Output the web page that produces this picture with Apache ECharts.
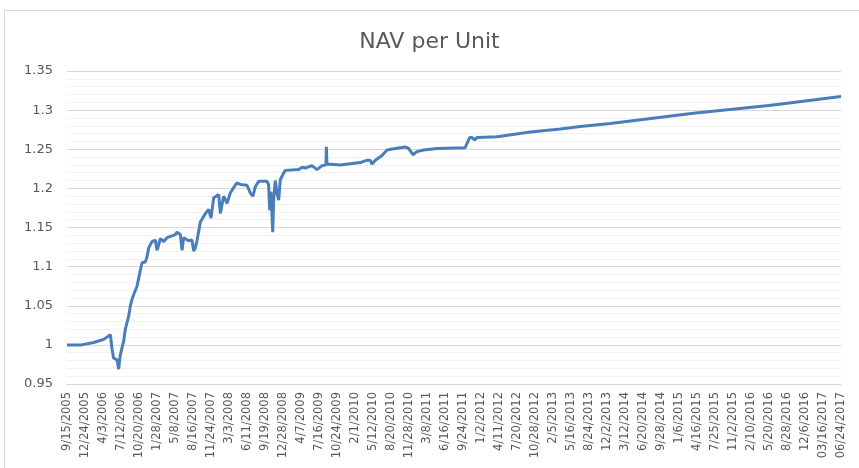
<!DOCTYPE html>
<html>
<head>
<meta charset="utf-8">
<script src="https://cdn.jsdelivr.net/npm/echarts@6/dist/echarts.min.js"></script>
<style>
  html, body { margin: 0; padding: 0; background: #fff; }
  #chart { width: 859px; height: 468px; }
</style>
</head>
<body>
<div id="chart"></div>
<script>
// ===== 数据 =====
// 横轴：从 9/15/2005 起的天数，刻度每 100 天
var tickLabels = [
  '9/15/2005', '12/24/2005', '4/3/2006', '7/12/2006', '10/20/2006', '1/28/2007',
  '5/8/2007', '8/16/2007', '11/24/2007', '3/3/2008', '6/11/2008', '9/19/2008',
  '12/28/2008', '4/7/2009', '7/16/2009', '10/24/2009', '2/1/2010', '5/12/2010',
  '8/20/2010', '11/28/2010', '3/8/2011', '6/16/2011', '9/24/2011', '1/2/2012',
  '4/11/2012', '7/20/2012', '10/28/2012', '2/5/2013', '5/16/2013', '8/24/2013',
  '12/2/2013', '3/12/2014', '6/20/2014', '9/28/2014', '1/6/2015', '4/16/2015',
  '7/25/2015', '11/2/2015', '2/10/2016', '5/20/2016', '8/28/2016', '12/6/2016',
  '03/16/2017', '06/24/2017'
];

// 读图得到的点：天数 与 单位净值
var days = [
  0, 80, 148, 204, 241, 250, 259, 278, 287, 296, 315, 324, 333, 343, 352, 361,
  370, 389, 407, 417, 435, 444, 454, 472, 491, 500, 505, 519, 537, 556, 602, 611,
  630, 639, 648, 676, 694, 704, 713, 722, 741, 769, 787, 800, 815, 843, 852, 870,
  889, 907, 926, 944, 963, 1000, 1019, 1033, 1046, 1065, 1111, 1120, 1126, 1133,
  1143, 1148, 1157, 1167, 1176, 1185, 1200, 1213, 1287, 1306, 1324, 1361, 1389,
  1417, 1439, 1441, 1444, 1518, 1629, 1667, 1685, 1694, 1713, 1750, 1778, 1824,
  1879, 1898, 1922, 1944, 1981, 2055, 2212, 2237, 2250, 2265, 2278, 2389, 2574,
  2741, 2852, 3018, 3480, 3900, 4300
];
var nav = [
  1.000, 1.000, 1.003, 1.007, 1.013, 0.995, 0.983, 0.981, 0.969, 0.987, 1.005, 1.020,
  1.028, 1.037, 1.050, 1.058, 1.064, 1.075, 1.095, 1.105, 1.106, 1.112, 1.124, 1.132,
  1.134, 1.121, 1.124, 1.136, 1.132, 1.137, 1.141, 1.144, 1.141, 1.121, 1.137, 1.133,
  1.134, 1.120, 1.124, 1.133, 1.157, 1.168, 1.173, 1.162, 1.188, 1.192, 1.168, 1.190,
  1.181, 1.194, 1.201, 1.207, 1.205, 1.204, 1.194, 1.190, 1.202, 1.209, 1.209, 1.205,
  1.172, 1.196, 1.144, 1.185, 1.210, 1.194, 1.185, 1.211, 1.218, 1.223, 1.224, 1.227,
  1.226, 1.229, 1.224, 1.229, 1.230, 1.253, 1.231, 1.230, 1.233, 1.236, 1.236, 1.231,
  1.236, 1.242, 1.249, 1.251, 1.253, 1.251, 1.243, 1.247, 1.249, 1.251, 1.252, 1.265,
  1.265, 1.262, 1.265, 1.266, 1.272, 1.276, 1.279, 1.283, 1.296, 1.306, 1.3175
];

var points = days.map(function(d, i) { return [d, nav[i]]; });

// ===== 图表 =====
var chart = echarts.init(document.getElementById('chart'));
var font = 'DejaVu Sans';

chart.setOption({
  animation: false,
  backgroundColor: '#fff',
  title: {
    text: 'NAV per Unit',
    left: 'center',
    top: 26,
    textStyle: { fontFamily: font, fontSize: 22, fontWeight: 'normal', color: '#595959' }
  },
  graphic: [{
    type: 'rect',
    shape: { x: 4.5, y: 10.5, width: 900, height: 500 },
    style: { fill: 'none', stroke: '#d9d9d9', lineWidth: 1 },
    silent: true
  }],
  grid: { left: 67, right: 18, top: 71, bottom: 84 },
  xAxis: {
    type: 'value',
    min: 0,
    max: 4300,
    interval: 100,
    axisLine: { show: true, lineStyle: { color: '#d9d9d9' } },
    axisTick: { show: false },
    splitLine: { show: false },
    axisLabel: {
      rotate: 90,
      margin: 8,
      fontFamily: font,
      fontSize: 11.5,
      color: '#595959',
      formatter: function(v) { return tickLabels[Math.round(v / 100)] || ''; }
    }
  },
  yAxis: {
    type: 'value',
    min: 0.95,
    max: 1.35,
    interval: 0.05,
    axisLine: { show: false },
    axisTick: { show: false },
    axisLabel: {
      margin: 14,
      fontFamily: font,
      fontSize: 13,
      color: '#595959',
      formatter: function(v) { return String(parseFloat(v.toFixed(2))); }
    },
    splitLine: { lineStyle: { color: '#d9d9d9', width: 1 } },
    minorTick: { show: false, splitNumber: 5 },
    minorSplitLine: { show: true, lineStyle: { color: '#f2f2f2', width: 1 } }
  },
  series: [{
    type: 'line',
    data: points,
    showSymbol: false,
    symbol: 'none',
    lineStyle: { color: '#4a7ebb', width: 3 },
    itemStyle: { color: '#4a7ebb' }
  }]
});
</script>
</body>
</html>
